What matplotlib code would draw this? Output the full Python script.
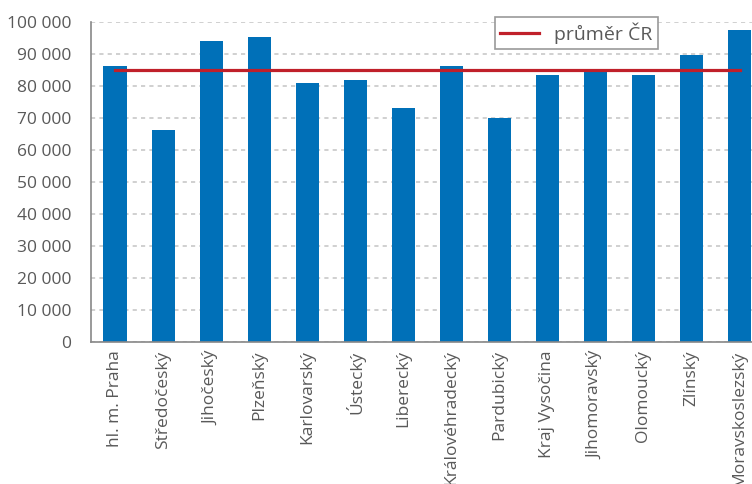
import numpy as np
import matplotlib.pyplot as plt

# kraje a hodnoty
kraje = ["hl. m. Praha", "Středočeský", "Jihočeský", "Plzeňský", "Karlovarský",
         "Ústecký", "Liberecký", "Královéhradecký", "Pardubický", "Kraj Vysočina",
         "Jihomoravský", "Olomoucký", "Zlínský", "Moravskoslezský"]
hodnoty = [86200, 66200, 94100, 95300, 80900, 81900, 73100,
           86300, 70000, 83400, 85400, 83400, 89700, 97500]
prumer_cr = 85000

yticks = np.arange(0, 100001, 10000)
ytick_labels = ["0"] + ["{:,}".format(v).replace(",", " ") for v in yticks[1:]]

plt.rcParams['font.family'] = ['Open Sans', 'DejaVu Sans']

bar_color = '#0070b8'
line_color = '#c0202a'
text_color = '#595959'

fig = plt.figure(figsize=(7.52, 4.84), dpi=100)
ax = fig.add_axes([0.121, 0.2934, 0.879, 0.6611])

x = np.arange(len(kraje))
ax.bar(x, hodnoty, width=0.48, color=bar_color, zorder=2)
ax.plot([x[0], x[-1]], [prumer_cr, prumer_cr], color=line_color, lw=2.3,
        label="průměr ČR", zorder=3)

ax.set_ylim(0, 100000)
ax.set_xlim(-0.5, 13.26)
ax.set_yticks(yticks)
ax.set_yticklabels(ytick_labels)
ax.set_xticks(x)
ax.set_xticklabels(kraje, rotation=90)

ax.tick_params(axis='both', length=0, colors=text_color, labelsize=12.5)
ax.tick_params(axis='y', pad=14)
ax.tick_params(axis='x', pad=6)

ax.grid(axis='y', color='#c8c8c8', linestyle=(0, (2.5, 2.5)), lw=1.2, zorder=0)
for s in ['top', 'right']:
    ax.spines[s].set_visible(False)
for s in ['left', 'bottom']:
    ax.spines[s].set_color('#888888')
    ax.spines[s].set_linewidth(1.2)

leg = ax.legend(loc='upper right', bbox_to_anchor=(0.872, 1.045), fancybox=False,
                framealpha=1, edgecolor='#999999', fontsize=14, handlelength=2.0,
                borderpad=0.25, labelcolor=text_color)
leg.get_frame().set_linewidth(1.2)

fig.savefig("out.png", dpi=100)
